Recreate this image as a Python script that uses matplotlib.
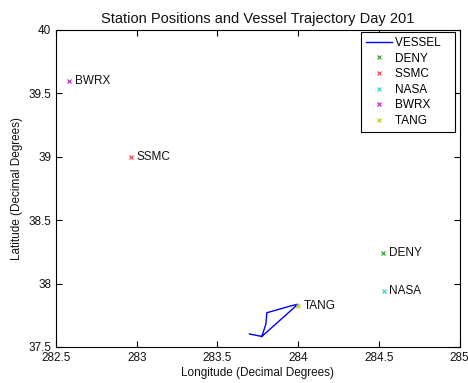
import matplotlib
matplotlib.use("Agg")
import matplotlib.pyplot as plt

plt.rcParams['font.family'] = ['Liberation Sans', 'DejaVu Sans']

# Data
vessel_lon = [283.698, 283.775, 283.800, 283.806, 283.960, 283.998, 283.775]
vessel_lat = [37.603, 37.583, 37.680, 37.770, 37.826, 37.837, 37.583]

stations = ['DENY', 'SSMC', 'NASA', 'BWRX', 'TANG']
station_lon = [284.525, 282.965, 284.530, 282.580, 283.998]
station_lat = [38.244, 38.995, 37.940, 39.598, 37.822]
station_colors = ['#3aa63a', '#ff4a4a', '#3fd4d4', '#d229d2', '#c9c92a']

xticks = [282.5, 283, 283.5, 284, 284.5, 285]
xticklabels = ['282.5', '283', '283.5', '284', '284.5', '285']
yticks = [37.5, 38, 38.5, 39, 39.5, 40]
yticklabels = ['37.5', '38', '38.5', '39', '39.5', '40']

fig = plt.figure(figsize=(4.68, 3.83), dpi=100)
ax = fig.add_axes([0.1197, 0.094, 0.8623, 0.8277])

ax.plot(vessel_lon, vessel_lat, color='#0000ff', lw=1.0, label='VESSEL')
for name, lo, la, c in zip(stations, station_lon, station_lat, station_colors):
    ax.plot([lo], [la], 'x', color=c, ms=3.5, mew=0.9, label=name)
    ax.text(lo + 0.035, la, name, ha='left', va='center', fontsize=8.5, color='#111111')

ax.set_xlim(282.5, 285)
ax.set_ylim(37.5, 40)
ax.set_xticks(xticks)
ax.set_xticklabels(xticklabels)
ax.set_yticks(yticks)
ax.set_yticklabels(yticklabels)
ax.tick_params(direction='in', top=True, right=True, labelsize=8.5, length=4, width=0.8,
               labelcolor='#111111')
for s in ax.spines.values():
    s.set_linewidth(0.8)

ax.set_title('Station Positions and Vessel Trajectory Day 201', fontsize=10.5, pad=5,
             color='#111111')
ax.set_xlabel('Longitude (Decimal Degrees)', fontsize=8.5, labelpad=2, color='#111111')
ax.set_ylabel('Latitude (Decimal Degrees)', fontsize=8.5, labelpad=4, color='#111111')

leg = ax.legend(loc='upper right', fontsize=8.5, fancybox=False, framealpha=1,
                edgecolor='black', borderaxespad=0.2, handlelength=2.2,
                handletextpad=0.3, labelspacing=0.3, borderpad=0.4,
                bbox_to_anchor=(0.995, 1.0))
leg.get_frame().set_linewidth(0.8)
for t in leg.get_texts():
    t.set_text(t.get_text() + '   ')

fig.savefig('out.png', dpi=100)
